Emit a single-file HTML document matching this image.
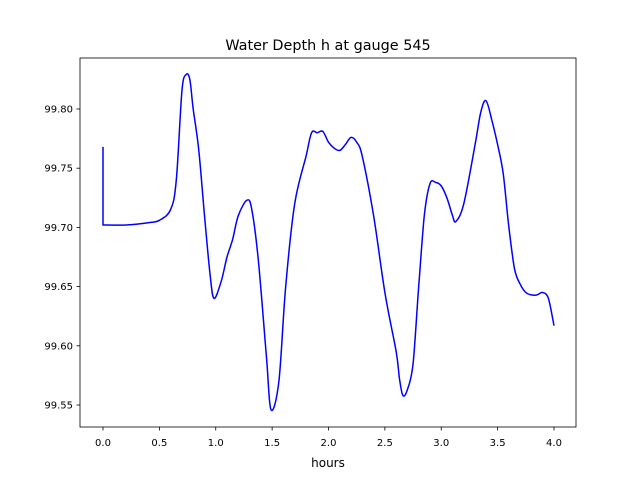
<!DOCTYPE html>
<html><head><meta charset="utf-8">
<style>
body{margin:0;background:#fff;}
svg text{font-family:"DejaVu Sans","Liberation Sans",sans-serif;fill:#000;}
</style></head>
<body>
<svg id="chart" width="640" height="480">
  <rect x="0" y="0" width="640" height="480" fill="#fff"/>
  <text x="328" y="50" font-size="14.4" text-anchor="middle">Water Depth h at gauge 545</text>
  <g id="xticks"></g>
  <g id="yticks"></g>
  <path id="line" fill="none" stroke="#0000ff" stroke-width="1.5" stroke-linejoin="round"/>
  <rect x="80" y="58" width="496" height="369" fill="none" stroke="#000" stroke-width="0.8"/>
  <text x="328" y="467" font-size="12" text-anchor="middle">hours</text>
</svg>
<script>
const times = [0,0,0.2,0.4,0.5,0.6,0.65,0.7,0.736,0.77,0.8,0.85,0.9,0.95,0.985,1.05,1.1,1.15,1.2,1.277,1.32,1.38,1.45,1.49,1.56,1.62,1.7,1.8,1.85,1.9,1.95,2.0,2.05,2.1,2.15,2.2,2.25,2.3,2.4,2.5,2.6,2.63,2.66,2.7,2.75,2.8,2.85,2.9,2.95,3.0,3.05,3.1,3.13,3.2,3.3,3.35,3.397,3.45,3.5,3.55,3.6,3.65,3.7,3.75,3.8,3.85,3.9,3.95,4.0];
const depths = [99.768,99.702,99.702,99.704,99.706,99.715,99.74,99.815,99.829,99.825,99.80,99.765,99.71,99.66,99.640,99.655,99.675,99.69,99.71,99.723,99.715,99.67,99.59,99.546,99.57,99.65,99.72,99.76,99.78,99.78,99.781,99.772,99.767,99.765,99.77,99.776,99.772,99.76,99.71,99.645,99.595,99.572,99.558,99.563,99.585,99.65,99.71,99.737,99.738,99.735,99.725,99.71,99.705,99.72,99.77,99.797,99.807,99.79,99.77,99.745,99.70,99.665,99.652,99.645,99.643,99.643,99.645,99.64,99.617];
const xTickVals = [0,0.5,1,1.5,2,2.5,3,3.5,4];
const xTickLabels = ["0.0","0.5","1.0","1.5","2.0","2.5","3.0","3.5","4.0"];
const yTickVals = [99.55,99.60,99.65,99.70,99.75,99.80];
const yTickLabels = ["99.55","99.60","99.65","99.70","99.75","99.80"];

const xs = t => 103 + t * 112.75;
const ys = v => 109 + (99.80 - v) / 0.05 * 59.2;
const NS = "http://www.w3.org/2000/svg";

const xg = document.getElementById('xticks');
xTickVals.forEach((t, i) => {
  const l = document.createElementNS(NS, 'line');
  l.setAttribute('x1', xs(t)); l.setAttribute('x2', xs(t));
  l.setAttribute('y1', 427); l.setAttribute('y2', 430.5);
  l.setAttribute('stroke', '#000'); l.setAttribute('stroke-width', '0.8');
  
  
  xg.appendChild(l);
  const tx = document.createElementNS(NS, 'text');
  tx.setAttribute('x', xs(t)); tx.setAttribute('y', 446);
  tx.setAttribute('font-size', '10'); tx.setAttribute('text-anchor', 'middle');
  tx.textContent = xTickLabels[i];
  
  
  xg.appendChild(tx);
});
const yg = document.getElementById('yticks');
yTickVals.forEach((v, i) => {
  const l = document.createElementNS(NS, 'line');
  l.setAttribute('x1', 76.5); l.setAttribute('x2', 80);
  l.setAttribute('y1', ys(v)); l.setAttribute('y2', ys(v));
  l.setAttribute('stroke', '#000'); l.setAttribute('stroke-width', '0.8');
  
  
  yg.appendChild(l);
  const tx = document.createElementNS(NS, 'text');
  tx.setAttribute('x', 73); tx.setAttribute('y', ys(v) + 3.5);
  tx.setAttribute('font-size', '10'); tx.setAttribute('text-anchor', 'end');
  tx.textContent = yTickLabels[i];
  
  
  yg.appendChild(tx);
});
// smooth path (Catmull-Rom), first vertical segment straight
const P = times.map((t, i) => [xs(t), ys(depths[i])]);
let d = 'M' + P[0][0].toFixed(1) + ' ' + P[0][1].toFixed(1) + ' L' + P[1][0].toFixed(1) + ' ' + P[1][1].toFixed(1);
for (let i = 1; i < P.length - 1; i++) {
  const p0 = P[Math.max(1, i - 1)], p1 = P[i], p2 = P[i + 1], p3 = P[Math.min(P.length - 1, i + 2)];
  const c1 = [p1[0] + (p2[0] - p0[0]) / 6, p1[1] + (p2[1] - p0[1]) / 6];
  const c2 = [p2[0] - (p3[0] - p1[0]) / 6, p2[1] - (p3[1] - p1[1]) / 6];
  d += ' C' + c1[0].toFixed(1) + ' ' + c1[1].toFixed(1) + ' ' + c2[0].toFixed(1) + ' ' + c2[1].toFixed(1) + ' ' + p2[0].toFixed(1) + ' ' + p2[1].toFixed(1);
}
document.getElementById('line').setAttribute('d', d);
</script>
</body></html>
